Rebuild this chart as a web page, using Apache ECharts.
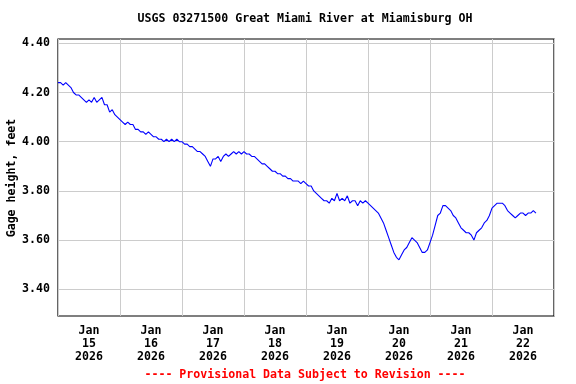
<!DOCTYPE html>
<html>
<head>
<meta charset="utf-8">
<script src="https://cdn.jsdelivr.net/npm/echarts@6/dist/echarts.min.js"></script>
<style>html,body{margin:0;padding:0;background:#fff}#c{width:576px;height:384px}</style>
</head>
<body>
<div id="c"></div>
<script>
// Hourly gage height readings starting 2026-01-15 00:00 (feet)
var startLabel = '2026-01-15 00:00';
var stepHours = 1;
var heights = [
4.24,4.24,4.23,4.24,4.23,4.22,4.20,4.19,4.19,4.18,4.17,4.16,
4.17,4.16,4.18,4.16,4.17,4.18,4.15,4.15,4.12,4.13,4.11,4.10,
4.09,4.08,4.07,4.08,4.07,4.07,4.05,4.05,4.04,4.04,4.03,4.04,
4.03,4.02,4.02,4.01,4.01,4.00,4.01,4.00,4.01,4.00,4.01,4.00,
4.00,3.99,3.99,3.98,3.98,3.97,3.96,3.96,3.95,3.94,3.92,3.90,
3.93,3.93,3.94,3.92,3.94,3.95,3.94,3.95,3.96,3.95,3.96,3.95,
3.96,3.95,3.95,3.94,3.94,3.93,3.92,3.91,3.91,3.90,3.89,3.88,
3.88,3.87,3.87,3.86,3.86,3.85,3.85,3.84,3.84,3.84,3.83,3.84,
3.83,3.82,3.82,3.80,3.79,3.78,3.77,3.76,3.76,3.75,3.77,3.76,
3.79,3.76,3.77,3.76,3.78,3.75,3.76,3.76,3.74,3.76,3.75,3.76,
3.75,3.74,3.73,3.72,3.71,3.69,3.67,3.64,3.61,3.58,3.55,3.53,
3.52,3.54,3.56,3.57,3.59,3.61,3.60,3.59,3.57,3.55,3.55,3.56,
3.59,3.62,3.66,3.70,3.71,3.74,3.74,3.73,3.72,3.70,3.69,3.67,
3.65,3.64,3.63,3.63,3.62,3.60,3.63,3.64,3.65,3.67,3.68,3.70,
3.73,3.74,3.75,3.75,3.75,3.74,3.72,3.71,3.70,3.69,3.70,3.71,
3.71,3.70,3.71,3.71,3.72,3.71
];
var xTickLabels = ['Jan\n15\n2026','Jan\n16\n2026','Jan\n17\n2026','Jan\n18\n2026','Jan\n19\n2026','Jan\n20\n2026','Jan\n21\n2026','Jan\n22\n2026'];
var yTicks = [3.40, 3.60, 3.80, 4.00, 4.20, 4.40];
var titleText = 'USGS 03271500 Great Miami River at Miamisburg OH';
var footerText = '---- Provisional Data Subject to Revision ----';
var yName = 'Gage height, feet';

var data = heights.map(function (v, i) { return [i * stepHours / 24, v]; });
var labelPos = xTickLabels.map(function (_, i) { return i + 0.5; });
var font = 'DejaVu Sans Mono';

var chart = echarts.init(document.getElementById('c'), null, {renderer: 'canvas'});
chart.setOption({
  animation: false,
  backgroundColor: '#fff',
  grid: {left: 58, top: 39, right: 22, bottom: 68, show: true, borderColor: '#000', borderWidth: 1.2, containLabel: false, outerBoundsMode: 'none'},
  graphic: [
    {type: 'text', x: 305, y: 19, style: {text: titleText, font: 'bold 11.6px "' + font + '"', fill: '#000', textAlign: 'center', textVerticalAlign: 'middle'}},
    {type: 'text', x: 305, y: 375, style: {text: footerText, font: 'bold 11.6px "' + font + '"', fill: '#ff0000', textAlign: 'center', textVerticalAlign: 'middle'}},
    {type: 'text', x: 12, y: 178, rotation: Math.PI / 2, style: {text: yName, font: 'bold 11.6px "' + font + '"', fill: '#000', textAlign: 'center', textVerticalAlign: 'middle'}}
  ],
  xAxis: {
    type: 'value', min: 0, max: 8, interval: 1,
    axisLine: {show: false},
    axisTick: {show: false},
    splitLine: {show: true, lineStyle: {color: '#cccccc', width: 1}},
    axisLabel: {
      customValues: labelPos,
      formatter: function (v) { return xTickLabels[Math.floor(v)]; },
      fontFamily: font, fontWeight: 'bold', fontSize: 11.6, color: '#000', lineHeight: 13, margin: 8
    }
  },
  yAxis: {
    type: 'value', min: 3.2915, max: 4.4175,
    axisLine: {show: false},
    axisTick: {show: false, customValues: yTicks},
    splitLine: {show: true, lineStyle: {color: '#cccccc', width: 1}},
    axisLabel: {
      customValues: yTicks,
      formatter: function (v) { return v.toFixed(2); },
      fontFamily: font, fontWeight: 'bold', fontSize: 11.6, color: '#000', margin: 8
    }
  },
  series: [{
    type: 'line', data: data, showSymbol: false, symbol: 'none',
    lineStyle: {color: '#0000ff', width: 1.1}
  }]
});
</script>
</body>
</html>
